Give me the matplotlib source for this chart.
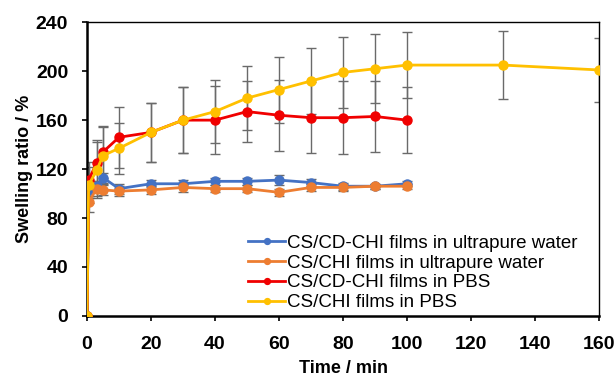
import matplotlib
matplotlib.use("Agg")
import matplotlib.pyplot as plt

plt.rcParams['font.family'] = ['Liberation Sans', 'DejaVu Sans']

# time points (min)
t_water = [0, 0.5, 3, 5, 10, 20, 30, 40, 50, 60, 70, 80, 90, 100]
t_red = [0, 0.5, 3, 5, 10, 20, 30, 40, 50, 60, 70, 80, 90, 100]
t_yellow = [0, 0.5, 3, 5, 10, 20, 30, 40, 50, 60, 70, 80, 90, 100, 130, 160]

# swelling ratio (%) and standard deviations
blue_y = [0, 103, 106, 113, 104, 108, 108, 110, 110, 111, 109, 106, 106, 108]
blue_err = [0, 5, 4, 4, 4, 3, 3, 3, 3, 4, 3, 3, 2, 2]
orange_y = [0, 93, 104, 103, 102, 103, 105, 104, 104, 101, 105, 105, 106, 106]
orange_err = [0, 8, 6, 4, 4, 3, 4, 3, 3, 3, 3, 3, 2, 2]
red_y = [0, 111, 125, 134, 146, 150, 160, 160, 167, 164, 162, 162, 163, 160]
red_err = [0, 15, 19, 21, 25, 24, 27, 28, 25, 29, 29, 30, 29, 27]
yellow_y = [0, 107, 119, 131, 137, 150, 160, 167, 178, 185, 192, 199, 202, 205, 205, 201]
yellow_err = [0, 15, 23, 23, 21, 24, 27, 26, 26, 27, 27, 29, 28, 27, 28, 26]

labels = ['CS/CD-CHI films in ultrapure water', 'CS/CHI films in ultrapure water',
          'CS/CD-CHI films in PBS', 'CS/CHI films in PBS']
colors = ['#4472C4', '#ED7D31', '#F00000', '#FFC000']

fig = plt.figure(figsize=(6.15, 3.77), dpi=100)
ax = fig.add_axes([0.1415, 0.162, 0.8325, 0.779])

series = [(t_water, blue_y, blue_err), (t_water, orange_y, orange_err),
          (t_red, red_y, red_err), (t_yellow, yellow_y, yellow_err)]

for (x, y, e), c in zip(series, colors):
    ax.errorbar(x, y, yerr=e, fmt='none', ecolor='#6a6a6a', elinewidth=1.0,
                capsize=3.5, capthick=1.0, zorder=2)
for (x, y, e), c, lab in zip(series, colors, labels):
    ax.plot(x, y, '-o', color=c, lw=2.0, markersize=6.5, label=lab, zorder=3)

ax.set_xlim(0, 160)
ax.set_ylim(0, 240)
ax.set_xticks(range(0, 161, 20))
ax.set_yticks(range(0, 241, 40))
ax.tick_params(axis='both', direction='out', length=3.6, width=1.2, labelsize=14)
ax.tick_params(axis='x', pad=11)
ax.tick_params(axis='y', pad=10)
for lab in ax.get_xticklabels() + ax.get_yticklabels():
    lab.set_fontweight('bold')
for side in ['left', 'bottom']:
    ax.spines[side].set_linewidth(1.8)
for side in ['top', 'right']:
    ax.spines[side].set_linewidth(1.0)

ax.set_xlabel('Time / min', fontsize=13, fontweight='bold', labelpad=5)
ax.set_ylabel('Swelling ratio / %', fontsize=13, fontweight='bold', labelpad=2)

ax.legend(loc='lower left', bbox_to_anchor=(0.305, 0.0), frameon=False, fontsize=13.5,
          handlelength=2.0, handletextpad=0.1, labelspacing=0.14, borderaxespad=0.05,
          borderpad=0.2, markerscale=0.65)

fig.savefig('out.png', dpi=100)
